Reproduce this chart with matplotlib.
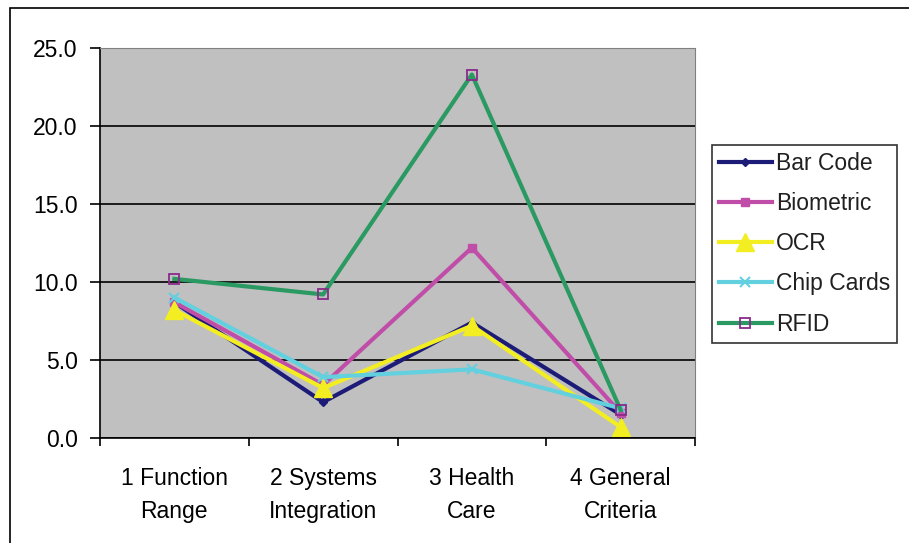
import matplotlib.pyplot as plt
from matplotlib.patches import Rectangle

plt.rcParams['font.family'] = ['Liberation Sans', 'DejaVu Sans']
plt.rcParams['text.color'] = '#202020'

categories = ['1 Function\nRange', '2 Systems\nIntegration', '3 Health\nCare', '4 General\nCriteria']
bar_code = [8.7, 2.3, 7.4, 1.5]
biometric = [8.7, 3.4, 12.2, 1.6]
ocr = [8.2, 3.2, 7.2, 0.7]
chip_cards = [9.0, 3.9, 4.4, 1.9]
rfid = [10.2, 9.2, 23.3, 1.8]

series = [
    ('Bar Code', bar_code, '#1c1c78', dict(marker='D', ms=4, mfc='#1c1c78', mec='#1c1c78')),
    ('Biometric', biometric, '#c04ea8', dict(marker='s', ms=6, mfc='#c04ea8', mec='#c04ea8')),
    ('OCR', ocr, '#f2ee22', dict(marker='^', ms=13, mfc='#f2ee22', mec='#f2ee22')),
    ('Chip Cards', chip_cards, '#62d0de', dict(marker='x', ms=7, mew=1.5, mec='#62d0de')),
    ('RFID', rfid, '#2a9a62', dict(marker='s', ms=7, mfc='none', mec='#8a2a8a', mew=1.3)),
]

fs = 16.5

fig = plt.figure(figsize=(9.09, 5.43), dpi=100)
ax = fig.add_axes([0.110, 0.1934, 0.6546, 0.7182])
ax.set_facecolor('#c0c0c0')

x = list(range(len(categories)))
for name, vals, color, mk in series:
    ax.plot(x, vals, color=color, lw=3, label=name, **mk)

ax.set_xlim(-0.5, 3.5)
ax.set_ylim(0, 25)
ax.set_yticks([0, 5, 10, 15, 20, 25])
ax.set_yticklabels([f'{v:.1f}' for v in [0, 5, 10, 15, 20, 25]])
ax.yaxis.grid(True, color='black', lw=1.2)
ax.set_axisbelow(True)
ax.set_xticks(x)
ax.set_xticklabels(categories, fontsize=fs, linespacing=1.52)
ax.set_xticks([-0.5, 0.5, 1.5, 2.5, 3.5], minor=True)
ax.tick_params(axis='x', which='major', length=0, pad=21)
ax.tick_params(axis='x', which='minor', length=6, direction='out', width=1.2)
ax.tick_params(axis='y', labelsize=fs, length=7, width=1.2, pad=9)
for s in ['top', 'right']:
    ax.spines[s].set_color('#808080')
for s in ['left', 'bottom']:
    ax.spines[s].set_color('black')
    ax.spines[s].set_linewidth(1.2)

leg = fig.legend(loc='upper left', bbox_to_anchor=(712 / 909, 1 - 145 / 543),
                 fontsize=fs, frameon=True, fancybox=False, edgecolor='black',
                 handlelength=2.3, handletextpad=0.2, labelspacing=0.75,
                 borderpad=0.3, borderaxespad=0)
leg.get_frame().set_linewidth(1.2)

fig.patches.append(Rectangle((10 / 909, -0.01), 1.0, 1 - 8 / 543 + 0.01,
                             transform=fig.transFigure, fill=False,
                             edgecolor='black', lw=1.2))

fig.savefig('out.png', dpi=100)
